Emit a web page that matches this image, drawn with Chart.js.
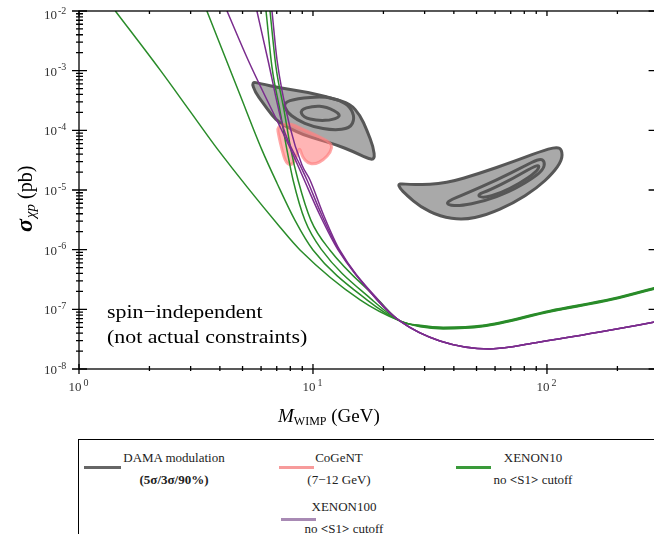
<!DOCTYPE html>
<html>
<head>
<meta charset="utf-8">
<script src="https://cdn.jsdelivr.net/npm/chart.js@4.4.0/dist/chart.umd.min.js"></script>
<style>
  html, body { margin: 0; padding: 0; overflow: hidden; background: #fff; }
  #wrap { position: absolute; left: 0; top: 0; width: 670px; height: 534px; }
  #legend { position: absolute; left: 78px; top: 439px; width: 640px; height: 130px;
            border: 1px solid #000; background: #fff; font-family: "Liberation Serif", serif; color: #222; }
  .swatch { position: absolute; height: 3px; }
  .txt { position: absolute; width: 180px; margin-left: -90px; text-align: center;
         font-size: 13px; line-height: 22px; white-space: nowrap; }
</style>
</head>
<body>
<div id="wrap"><canvas id="myChart" width="670" height="534"></canvas></div>
<div id="legend">
  <div class="swatch" style="left:5px;top:26px;width:37px;background:#666"></div>
  <div class="txt" style="left:95px;top:7px">DAMA modulation<br><b>(5σ/3σ/90%)</b></div>
  <div class="swatch" style="left:200px;top:26px;width:35px;background:#f79b9b"></div>
  <div class="txt" style="left:260px;top:7px">CoGeNT<br>(7−12 GeV)</div>
  <div class="swatch" style="left:377px;top:26px;width:35px;background:#3a9a3a"></div>
  <div class="txt" style="left:454px;top:7px">XENON10<br>no <b>&lt;</b>S1<b>&gt;</b> cutoff</div>
  <div class="swatch" style="left:202px;top:78px;width:35px;background:#a88ab4"></div>
  <div class="txt" style="left:265px;top:56px">XENON100<br>no <b>&lt;</b>S1<b>&gt;</b> cutoff</div>
</div>
<script>
/* axis ranges: WIMP mass (GeV) and cross section (pb) */
var massMin = 1, massMax = 300;
var sigmaMin = 1e-8, sigmaMax = 1e-2;

var xTicks = [1, 10, 100];
var xTickExp = ['0', '1', '2'];
var yTicks = [1e-8, 1e-7, 1e-6, 1e-5, 1e-4, 1e-3, 1e-2];
var yTickExp = ['-8', '-7', '-6', '-5', '-4', '-3', '-2'];

/* XENON10 limits, no <S1> cutoff  [mass, sigma] */
var xe10a = [[1.43, 1e-2], [2.22, 1.03e-3], [2.98, 2.1e-4], [3.93, 4.7e-5], [7.22, 2.4e-6], [8.80, 9.9e-7],
             [15.9, 1.44e-7], [23.5, 6.4e-8], [28.7, 5.1e-8], [36, 4.7e-8], [53, 5.1e-8], [103, 9.0e-8],
             [191, 1.44e-7], [300, 2.28e-7]];
var xe10b = [[3.52, 1e-2], [4.88, 3.9e-4], [6.05, 4.7e-5], [7.02, 1.3e-5], [8.38, 3.1e-6], [10.0, 9.9e-7],
             [17.0, 1.44e-7], [23.5, 6.4e-8], [28.7, 5.2e-8], [36, 4.8e-8], [53, 5.2e-8], [103, 9.2e-8],
             [191, 1.47e-7], [300, 2.32e-7]];
var xe10c = [[6.30, 1e-2], [6.68, 1.15e-3], [7.22, 2.19e-4], [7.74, 4.7e-5], [8.22, 1.47e-5], [9.24, 3.1e-6],
             [10.9, 9.9e-7], [17.9, 1.44e-7], [23.5, 6.4e-8], [28.7, 5.3e-8], [36, 4.9e-8], [53, 5.3e-8],
             [103, 9.4e-8], [191, 1.5e-7], [300, 2.37e-7]];
var xe10d = [[6.55, 1e-2], [6.95, 1.15e-3], [7.52, 2.19e-4], [8.05, 4.7e-5], [8.63, 1.47e-5], [9.80, 3.1e-6],
             [11.8, 9.9e-7], [19.0, 1.44e-7], [23.5, 6.4e-8], [28.7, 5.4e-8], [36, 5.0e-8], [53, 5.4e-8],
             [103, 9.6e-8], [191, 1.53e-7], [300, 2.42e-7]];

/* XENON100 limits, no <S1> cutoff */
var xe100a = [[4.29, 1e-2], [5.28, 1.51e-3], [8.05, 4.7e-5], [9.06, 1.65e-5], [10.7, 3.81e-6], [12.8, 9.9e-7],
              [18.8, 1.44e-7], [23.5, 6.4e-8], [34.9, 2.95e-8], [57.1, 2.17e-8], [93.3, 2.84e-8],
              [168, 4.17e-8], [300, 6.3e-8]];
var xe100b = [[5.76, 1e-2], [6.42, 1.51e-3], [7.45, 1.14e-4], [8.80, 2.62e-5], [9.43, 1.47e-5], [10.9, 3.81e-6],
              [12.9, 9.9e-7], [18.8, 1.44e-7], [23.5, 6.4e-8], [34.9, 2.95e-8], [57.1, 2.17e-8], [93.3, 2.84e-8],
              [168, 4.17e-8], [300, 6.3e-8]];
var xe100c = [[6.68, 1e-2], [7.02, 1.51e-3], [7.97, 1.14e-4], [8.97, 2.62e-5], [9.71, 1.47e-5], [11.1, 3.81e-6],
              [13.0, 9.9e-7], [19.0, 1.44e-7], [23.5, 6.4e-8], [34.9, 2.95e-8], [57.1, 2.17e-8], [93.3, 2.84e-8],
              [168, 4.17e-8], [300, 6.3e-8]];

/* DAMA modulation regions (5 sigma / 3 sigma / 90%) */
var damaLowOuter = [[5.47, 6.5e-4], [5.94, 6.1e-4], [7.22, 5.1e-4], [9.40, 4.4e-4], [12.2, 3.4e-4], [14.4, 2.8e-4],
                    [15.9, 1.8e-4], [17.0, 1.0e-4], [18.1, 5.3e-5], [18.4, 3.2e-5], [17.0, 3.4e-5], [14.9, 4.4e-5],
                    [12.6, 5.7e-5], [10.7, 6.9e-5], [9.09, 8.4e-5], [7.97, 1.08e-4], [7.22, 1.31e-4],
                    [6.66, 1.81e-4], [6.13, 2.84e-4], [5.65, 4.4e-4]];
var damaLowMid = [[7.47, 2.9e-4], [8.52, 3.4e-4], [11.1, 3.7e-4], [13.0, 3.2e-4], [14.4, 2.5e-4], [15.1, 1.6e-4],
                  [14.4, 1.08e-4], [12.2, 1.0e-4], [10.0, 1.15e-4], [8.52, 1.5e-4], [7.72, 2.05e-4]];
var damaLowInner = [[8.8, 2.2e-4], [10.0, 2.56e-4], [11.4, 2.5e-4], [13.3, 1.81e-4], [12.2, 1.49e-4],
                    [10.4, 1.45e-4], [9.09, 1.65e-4]];
var damaHighOuter = [[23.1, 1.3e-5], [26.8, 1.21e-5], [37.3, 1.3e-5], [51.7, 1.91e-5], [71.8, 2.98e-5],
                     [93.3, 4.39e-5], [110, 5.32e-5], [116, 4.69e-5], [116, 3.18e-5], [106, 1.91e-5],
                     [90.4, 1.07e-5], [71.8, 6.0e-6], [55.2, 3.8e-6], [43.9, 3.14e-6], [34.9, 3.57e-6],
                     [28.7, 5.25e-6], [25.1, 8.25e-6], [23.5, 1.07e-5]];
var damaHighMid = [[37.3, 6.4e-6], [45.4, 8.8e-6], [61.0, 1.47e-5], [79.2, 2.46e-5], [93.3, 3.4e-5], [98.0, 3.0e-5],
                   [96.4, 2.16e-5], [84.6, 1.47e-5], [69.5, 9.4e-6], [53.4, 6.4e-6], [42.5, 5.4e-6], [37.9, 5.6e-6]];
var damaHighInner = [[50.1, 8.3e-6], [57.1, 1.0e-5], [71.8, 1.57e-5], [87.4, 2.46e-5], [93.3, 2.62e-5],
                     [90.4, 2.03e-5], [76.7, 1.3e-5], [63.0, 8.8e-6], [53.4, 7.3e-6]];

/* CoGeNT (7-12 GeV) */
var cogent = [[7.02, 1.18e-4], [7.97, 1.33e-4], [8.8, 1.09e-4], [10.2, 8.4e-5], [12.1, 6.1e-5], [11.9, 4.3e-5],
              [11.1, 3.2e-5], [10.2, 2.7e-5], [9.5, 2.8e-5], [9.0, 3.6e-5], [8.75, 5.3e-5], [8.5, 3.6e-5],
              [8.15, 2.6e-5], [7.67, 2.8e-5], [7.37, 4.7e-5], [7.16, 7.7e-5]];

var green = '#2a8c2a';
var purple = '#7b2d8e';

function pts(arr) {
    return arr.map(function (p) { return { x: p[0], y: p[1] }; });
}

function curve(arr, color) {
    return {
        data: pts(arr),
        showLine: true,
        borderColor: color,
        borderWidth: 1.5,
        pointRadius: 0,
        fill: false,
        cubicInterpolationMode: 'monotone'
    };
}

// smooth closed outline through the midpoints
function closedPath(ctx, p) {
    var n = p.length;
    ctx.beginPath();
    ctx.moveTo((p[n - 1][0] + p[0][0]) / 2, (p[n - 1][1] + p[0][1]) / 2);
    for (var i = 0; i < n; i++) {
        var q = p[(i + 1) % n];
        ctx.quadraticCurveTo(p[i][0], p[i][1], (p[i][0] + q[0]) / 2, (p[i][1] + q[1]) / 2);
    }
    ctx.closePath();
}

var serif = '"Liberation Serif", "Times New Roman", serif';

var framePlugin = {
    id: 'frame',
    beforeDatasetsDraw: function (chart) {
        var ctx = chart.ctx, x = chart.scales.x, y = chart.scales.y;
        var toPx = function (p) { return [x.getPixelForValue(p[0]), y.getPixelForValue(p[1])]; };
        ctx.save();
        ctx.lineJoin = 'round';
        // DAMA
        [[damaLowOuter, damaLowMid, damaLowInner], [damaHighOuter, damaHighMid, damaHighInner]].forEach(function (set) {
            closedPath(ctx, set[0].map(toPx));
            ctx.fillStyle = '#a9a9a9';
            ctx.fill();
            ctx.strokeStyle = '#575757';
            ctx.lineWidth = 3;
            set.forEach(function (c) {
                closedPath(ctx, c.map(toPx));
                ctx.stroke();
            });
        });
        // CoGeNT
        closedPath(ctx, cogent.map(toPx));
        ctx.fillStyle = 'rgba(255,120,120,0.55)';
        ctx.fill();
        ctx.strokeStyle = 'rgba(255,130,130,0.7)';
        ctx.lineWidth = 3;
        ctx.stroke();
        ctx.restore();
    },
    afterDraw: function (chart) {
        var ctx = chart.ctx, a = chart.chartArea, x = chart.scales.x, y = chart.scales.y;
        var i, k, v, p;
        ctx.save();
        ctx.strokeStyle = '#000';
        ctx.lineWidth = 1.3;
        ctx.strokeRect(a.left, a.top, a.right - a.left, a.bottom - a.top);
        ctx.beginPath();
        // x ticks, top and bottom
        for (i = 0; i < xTicks.length; i++) {
            for (k = 1; k <= 9; k++) {
                v = xTicks[i] * k;
                if (v > massMax) break;
                p = x.getPixelForValue(v);
                var big = k === 1;
                ctx.moveTo(p, a.bottom - (big ? 5 : 3));
                ctx.lineTo(p, a.bottom + (big ? 5 : 2));
                ctx.moveTo(p, a.top);
                ctx.lineTo(p, a.top + (big ? 5 : 3));
            }
        }
        // y ticks, left and right
        for (i = 0; i < yTicks.length; i++) {
            for (k = 1; k <= 9; k++) {
                v = yTicks[i] * k;
                if (v > sigmaMax * 1.0001) break;
                p = y.getPixelForValue(v);
                var bigY = k === 1;
                ctx.moveTo(a.left - (bigY ? 7 : 3), p);
                ctx.lineTo(a.left + (bigY ? 8 : 4), p);
                ctx.moveTo(a.right - (bigY ? 10 : 4), p);
                ctx.lineTo(a.right, p);
            }
        }
        ctx.stroke();

        // tick labels
        ctx.fillStyle = '#333';
        ctx.textBaseline = 'middle';
        for (i = 0; i < yTicks.length; i++) {
            p = Math.max(y.getPixelForValue(yTicks[i]) + 1.5, 16);
            ctx.font = '13px ' + serif;
            ctx.textAlign = 'right';
            ctx.fillText('10', a.left - 22, p);
            ctx.font = '10px ' + serif;
            ctx.textAlign = 'left';
            ctx.fillText(yTickExp[i], a.left - 21, p - 4.5);
        }
        for (i = 0; i < xTicks.length; i++) {
            p = x.getPixelForValue(xTicks[i]);
            ctx.font = '13px ' + serif;
            ctx.textAlign = 'right';
            ctx.fillText('10', p + 2.5, a.bottom + 19);
            ctx.font = '10px ' + serif;
            ctx.textAlign = 'left';
            ctx.fillText(xTickExp[i], p + 4.5, a.bottom + 14.5);
        }

        // x title: M_WIMP (GeV)
        ctx.fillStyle = '#000';
        ctx.textBaseline = 'alphabetic';
        ctx.textAlign = 'left';
        var tx = 278;
        ctx.font = 'italic 19px ' + serif;
        ctx.fillText('M', tx, 422);
        tx += ctx.measureText('M').width;
        ctx.font = '12px ' + serif;
        ctx.fillText('WIMP', tx, 425);
        tx += ctx.measureText('WIMP').width;
        ctx.font = '19px ' + serif;
        ctx.fillText(' (GeV)', tx, 422);

        // y title: sigma_chi p (pb)
        ctx.save();
        ctx.translate(32, 232);
        ctx.rotate(-Math.PI / 2);
        var ty = 0;
        ctx.font = 'bold italic 24px ' + serif;
        ctx.fillText('σ', ty, 0);
        ty += ctx.measureText('σ').width + 1;
        ctx.font = 'italic 15px ' + serif;
        ctx.fillText('χp', ty, 3);
        ty += ctx.measureText('χp').width;
        ctx.font = '20px ' + serif;
        ctx.fillText(' (pb)', ty, 0);
        ctx.restore();

        // note, a little wider than the plain font
        ctx.save();
        ctx.translate(107, 0);
        ctx.scale(1.15, 1);
        ctx.font = '19px ' + serif;
        ctx.fillText('spin−independent', 0, 318);
        ctx.fillText('(not actual constraints)', 0, 343);
        ctx.restore();
        ctx.restore();
    }
};

var ctx = document.getElementById('myChart').getContext('2d');
var myChart = new Chart(ctx, {
    type: 'scatter',
    data: {
        datasets: [
            curve(xe100a, purple), curve(xe100b, purple), curve(xe100c, purple),
            curve(xe10a, green), curve(xe10b, green), curve(xe10c, green), curve(xe10d, green)
        ]
    },
    options: {
        responsive: false,
        animation: false,
        devicePixelRatio: 1,
        layout: { padding: { left: 79, top: 11, right: 11.4, bottom: 165 } },
        plugins: { legend: { display: false }, tooltip: { enabled: false } },
        scales: {
            x: { type: 'logarithmic', min: massMin, max: massMax, display: false },
            y: { type: 'logarithmic', min: sigmaMin, max: sigmaMax, display: false }
        }
    },
    plugins: [framePlugin]
});
</script>
</body>
</html>
